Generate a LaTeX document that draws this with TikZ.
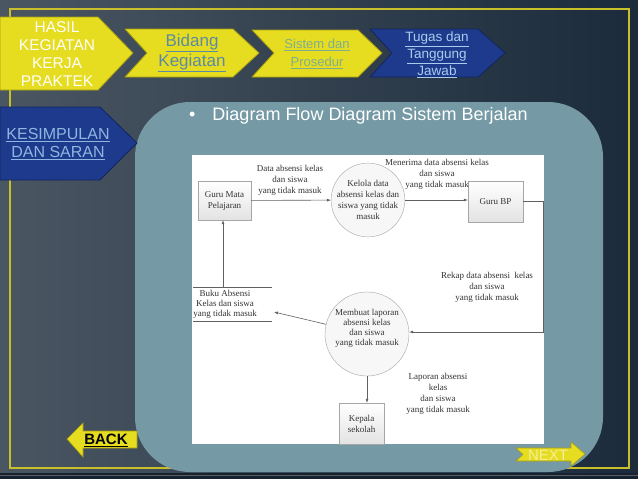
\documentclass[tikz,border=0pt]{standalone}
\usepackage{fontspec}
\setmainfont{Liberation Serif}
\newfontfamily\arial{Liberation Sans}
\usetikzlibrary{arrows.meta}
\definecolor{bgL}{HTML}{4A5662}
\definecolor{bgR}{HTML}{1B2B3B}
\definecolor{frameY}{HTML}{C9BF2A}
\definecolor{chevY}{HTML}{E6DC20}
\definecolor{chevYd}{HTML}{A89E10}
\definecolor{chevB}{HTML}{1E3A8C}
\definecolor{chevBd}{HTML}{122560}
\definecolor{panel}{HTML}{7599A5}
\definecolor{linkA}{HTML}{5B8AA6}
\definecolor{linkB}{HTML}{7DAE92}
\definecolor{linkC}{HTML}{A8CCEE}
\definecolor{linkD}{HTML}{8FB6E0}
\definecolor{dfd}{HTML}{333333}
\tikzset{
  yel/.style={fill=chevY, draw=chevYd, line width=.8pt, line join=round},
  blu/.style={fill=chevB, draw=chevBd, line width=.8pt, line join=round},
  proc/.style={circle, draw=gray!70, fill=gray!6, inner sep=0pt, font=\fontsize{9}{11}\selectfont, text=dfd, align=center},
  ent/.style={rectangle, draw=gray!70, top color=white, bottom color=gray!22, inner sep=0pt, font=\fontsize{9}{11}\selectfont, text=dfd, align=center},
  lbl/.style={font=\fontsize{9}{11}\selectfont, text=dfd, align=center, inner sep=0pt},
  flow/.style={draw=gray!75!black, line width=.6pt, -{Latex[length=4pt,width=3pt]}},
  tab/.style={font=\arial\fontsize{15}{18}\selectfont, align=center, inner sep=0pt}
}
\begin{document}
\begin{tikzpicture}[x=1pt,y=-1pt]
\useasboundingbox (0,0) rectangle (638,479);
% background and frame
\shade[left color=bgL, right color=bgR] (0,0) rectangle (638,479);
\fill[bgR!80!black] (0,473) rectangle (638,479);
\draw[gray!60!bgR, line width=1pt] (0,475) -- (638,475);
\draw[frameY, line width=1.5pt] (10,9) rectangle (629,468);
\fill[panel, rounded corners=55pt] (135,102) rectangle (603,472);
% tabs
\fill[yel] (0,17) -- (98,17) -- (133,53) -- (98,90) -- (0,90) -- cycle;
\fill[yel] (125,29) -- (233,29) -- (259,53) -- (233,77) -- (125,77) -- (147,53) -- cycle;
\fill[yel] (252,30) -- (358,30) -- (382,53) -- (358,77) -- (252,77) -- (274,53) -- cycle;
\fill[blu] (370,29) -- (478,29) -- (505,53) -- (478,77) -- (370,77) -- (392,53) -- cycle;
\fill[blu] (0,107) -- (100,107) -- (137,143) -- (100,180) -- (0,180) -- cycle;
\node[tab, text=white, font=\arial\fontsize{15.5}{18}\selectfont] (hasil) at (57,54) {HASIL\\KEGIATAN\\KERJA\\PRAKTEK};
\node[tab, text=linkA, font=\arial\fontsize{17}{20}\selectfont] (bidang) at (192,53) {\underline{Bidang}\\\underline{Kegiatan}};
\node[tab, text=linkB, font=\arial\fontsize{13}{18}\selectfont] (sistem) at (317,54) {\underline{Sistem dan}\\\underline{Prosedur}};
\node[tab, text=linkC, font=\arial\fontsize{13.5}{17}\selectfont] (tugas) at (437,55) {\underline{Tugas dan}\\\underline{Tanggung}\\\underline{Jawab}};
\node[tab, text=linkD, font=\arial\fontsize{16}{18}\selectfont] (kesimpulan) at (58,144) {\underline{KESIMPULAN}\\\underline{DAN SARAN}};
% title
\node[tab, text=white, font=\arial\fontsize{18}{20}\selectfont, anchor=west] (title) at (189,116) {\textbullet\hspace{17pt}Diagram Flow Diagram Sistem Berjalan};
% diagram
\fill[white] (192,155) rectangle (544,444);
\node[ent, minimum width=53pt, minimum height=39pt] (gm) at (224.5,200.5) {Guru Mata\\Pelajaran};
\node[proc, minimum size=72pt] (kl) at (368,200) {Kelola data\\absensi kelas dan\\siswa yang tidak\\masuk};
\node[ent, minimum width=55pt, minimum height=41pt] (bp) at (495.5,201.5) {Guru BP};
\node[proc, minimum size=84pt, font=\fontsize{9}{10}\selectfont] (mb) at (367,334) {Membuat laporan\\absensi kelas\\dan siswa\\yang tidak masuk\\[3pt]};
\node[ent, minimum width=45pt, minimum height=41pt] (kp) at (361.5,423.5) {Kepala\\sekolah};
\node[lbl, font=\fontsize{9}{10}\selectfont] (bk) at (225,304) {Buku Absensi\\Kelas dan siswa\\yang tidak masuk};
\draw[gray!75!black, line width=.6pt] (193,287) -- (272,287);
\draw[gray!75!black, line width=.6pt] (193,321) -- (272,321);
\coordinate (bktop) at (223,287);
\coordinate (bkin) at (274,312);
\coordinate (rk) at (543,332);
\node[lbl] (l1) at (290,180) {Data absensi kelas\\dan siswa\\yang tidak masuk};
\node[lbl] (l2) at (437,174) {Menerima data absensi kelas\\dan siswa\\yang tidak masuk};
\node[lbl] (l3) at (487,287) {Rekap data absensi\ \ kelas\\dan siswa\\yang tidak masuk};
\node[lbl] (l4) at (438,394) {Laporan absensi\\kelas\\dan siswa\\yang tidak masuk};
\draw[flow] (gm) -- (kl);
\draw[flow] (kl) -- (kl -| bp.west);
\draw[flow] (bp.east) -| (rk) -- (rk -| mb.east);
\draw[flow] (mb) -- (bkin);
\draw[flow] (bktop) -- (bktop |- gm.south);
\draw[flow] (mb) -- (mb |- kp.north);
% navigation
\fill[chevY, draw=chevYd, line width=.6pt] (67,439) -- (83,423) -- (83,431) -- (137,431) -- (137,448) -- (83,448) -- (83,457) -- cycle;
\node[tab, text=black, font=\arial\bfseries\fontsize{15}{18}\selectfont] (back) at (106,440) {\underline{BACK}};
\fill[chevY, draw=chevYd, line width=.6pt] (516,448) -- (571,448) -- (571,442) -- (585,454) -- (571,466) -- (571,461) -- (516,461) -- (523,454.5) -- cycle;
\node[tab, text=chevY!45!white, font=\arial\fontsize{15}{18}\selectfont] (next) at (548,455) {NEXT};
\end{tikzpicture}
\end{document}
